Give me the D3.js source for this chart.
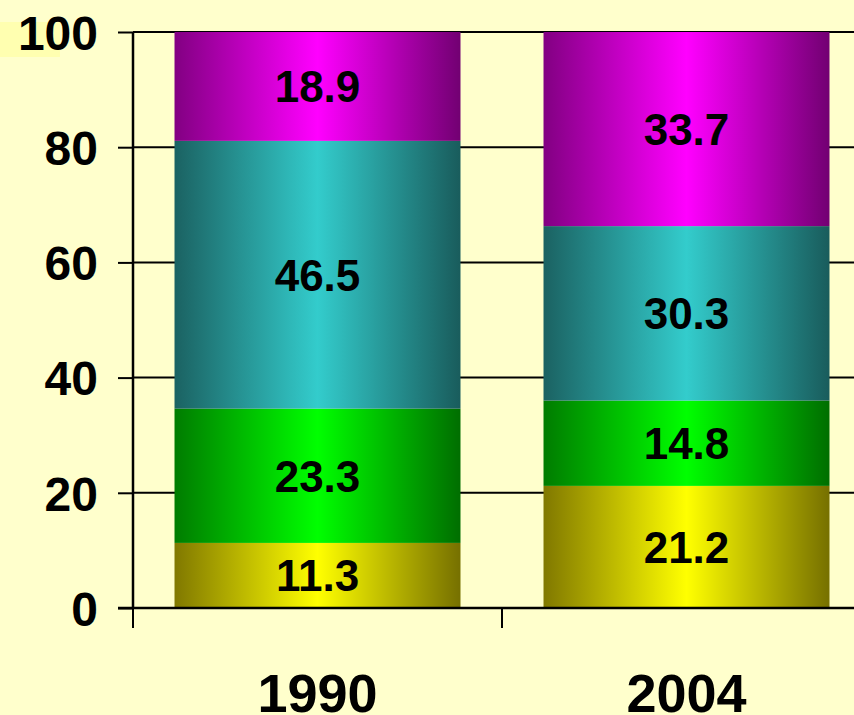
<!DOCTYPE html>
<html><head><meta charset="utf-8">
<script src="https://cdn.jsdelivr.net/npm/d3@7"></script>
<style>
html,body{margin:0;padding:0;background:#FFFFCC;overflow:hidden;}
svg{display:block;}
</style></head>
<body>
<svg id="chart" width="854" height="715"></svg>
<script>
const categories = ["1990", "2004"];
const seriesNames = ["s1", "s2", "s3", "s4"];
const s1 = [11.3, 21.2];
const s2 = [23.3, 14.8];
const s3 = [46.5, 30.3];
const s4 = [18.9, 33.7];
const yTicks = [0, 20, 40, 60, 80, 100];
const seriesColors = [
  ["#807800", "#FFFF00", "#767000"],
  ["#007C00", "#00FF00", "#006E00"],
  ["#1B6262", "#33CCCC", "#195C5C"],
  ["#820082", "#FF00FF", "#720072"]
];

const svg = d3.select("#chart");
const W = 854, H = 715;
svg.append("rect").attr("width", W).attr("height", H).attr("fill", "#FFFFCC");
svg.append("rect").attr("x", 0).attr("y", 22).attr("width", 60).attr("height", 35).attr("fill", "#FFFFB0");

const x0 = 133, yTop = 32, yBot = 608;
const x = d3.scaleBand().domain(categories).range([x0, x0 + 369 * 2]).padding(0);
const barW = x.bandwidth() * 0.775;
const y = d3.scaleLinear().domain([0, 100]).range([yBot, yTop]);

const data = categories.map((c, i) => ({cat: c, s1: s1[i], s2: s2[i], s3: s3[i], s4: s4[i]}));
const stacked = d3.stack().keys(seriesNames)(data);

const defs = svg.append("defs");
seriesColors.forEach((cols, i) => {
  const g = defs.append("linearGradient").attr("id", "g" + i)
    .attr("x1", "0%").attr("x2", "100%").attr("y1", "0%").attr("y2", "0%");
  g.append("stop").attr("offset", "0%").attr("stop-color", cols[0]);
  g.append("stop").attr("offset", "50%").attr("stop-color", cols[1]);
  g.append("stop").attr("offset", "100%").attr("stop-color", cols[2]);
});

// gridlines
svg.append("g").selectAll("line").data(yTicks.filter(t => t > 0)).join("line")
  .attr("x1", x0).attr("x2", W).attr("y1", d => y(d)).attr("y2", d => y(d))
  .attr("stroke", "#000").attr("stroke-width", 2);

// bars
const layers = svg.append("g").selectAll("g").data(stacked).join("g")
  .attr("fill", (d, i) => `url(#g${i})`);
layers.selectAll("rect").data(d => d).join("rect")
  .attr("x", d => x(d.data.cat) + (x.bandwidth() - barW) / 2)
  .attr("width", barW)
  .attr("y", d => y(d[1]))
  .attr("height", d => y(d[0]) - y(d[1]));

// value labels
const lbl = svg.append("g");
stacked.forEach((layer, i) => {
  layer.forEach(d => {
    lbl.append("text")
      .attr("x", x(d.data.cat) + x.bandwidth() / 2)
      .attr("y", (y(d[0]) + y(d[1])) / 2)
      .attr("dy", "0.36em")
      .attr("text-anchor", "middle")
      .attr("font-family", "Liberation Sans, Arial, sans-serif")
      .attr("font-weight", "bold")
      .attr("font-size", 44)
      .attr("fill", "#000")
      .text((d[1] - d[0]).toFixed(1));
  });
});

// y axis
const yAxis = d3.axisLeft(y).tickValues(yTicks).tickSize(15).tickPadding(20);
const ya = svg.append("g").attr("transform", `translate(${x0},0)`).call(yAxis);
ya.select(".domain").attr("stroke", "#000").attr("stroke-width", 2.5).attr("d", `M0,${yTop}V${yBot}`);
ya.selectAll(".tick line").attr("stroke", "#000").attr("stroke-width", 2);
ya.selectAll(".tick text").attr("font-family", "Liberation Sans, Arial, sans-serif")
  .attr("font-weight", "bold").attr("font-size", 48).attr("fill", "#000").attr("dy", "0.36em");

// x axis
const xa = svg.append("g").attr("transform", `translate(0,${yBot})`);
xa.append("line").attr("x1", x0 - 15).attr("x2", W).attr("y1", 0).attr("y2", 0)
  .attr("stroke", "#000").attr("stroke-width", 2.5);
const bounds = categories.map(c => x(c)).concat([x.range()[1]]);
xa.selectAll("line.tk").data(bounds).join("line").attr("class", "tk")
  .attr("x1", d => d).attr("x2", d => d).attr("y1", 0).attr("y2", 20)
  .attr("stroke", "#000").attr("stroke-width", 2);
xa.selectAll("text").data(categories).join("text")
  .attr("x", d => x(d) + x.bandwidth() / 2)
  .attr("y", 104)
  .attr("text-anchor", "middle")
  .attr("font-family", "Liberation Sans, Arial, sans-serif")
  .attr("font-weight", "bold").attr("font-size", 54).attr("fill", "#000")
  .text(d => d);
</script>
</body></html>
